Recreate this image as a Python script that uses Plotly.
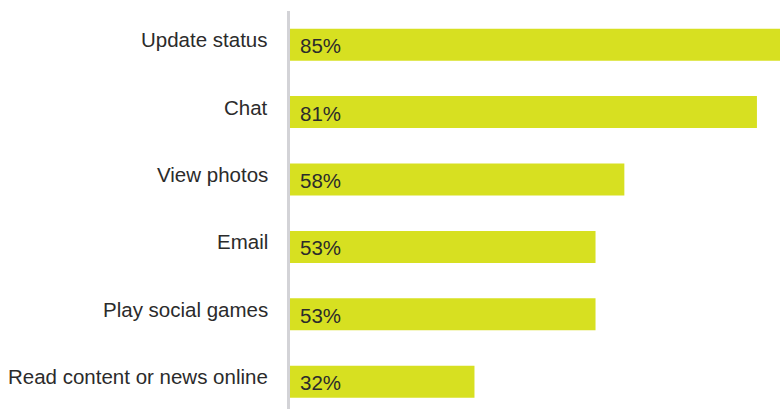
import plotly.graph_objects as go

# Share of users doing each activity (%)
activities = [
    "Update status",
    "Chat",
    "View photos",
    "Email",
    "Play social games",
    "Read content or news online",
]
shares = [85, 81, 58, 53, 53, 32]
value_labels = [f"{v}%" for v in shares]

BAR_COLOR = "#d7e021"
TEXT_COLOR = "#2b2b2b"
FONT = "Liberation Sans, Arial, Helvetica, sans-serif"

fig = go.Figure(
    go.Bar(
        x=shares,
        y=activities,
        orientation="h",
        marker=dict(color=BAR_COLOR, line=dict(width=0)),
        width=0.475,
        hoverinfo="skip",
    )
)

annotations = []
for name, val, lab in zip(activities, shares, value_labels):
    # category name to the left of the axis line
    annotations.append(
        dict(
            x=0, xref="paper", y=name, yref="y",
            text=name, showarrow=False,
            xanchor="right", yanchor="middle",
            xshift=-20, yshift=5,
            font=dict(family=FONT, size=20.5, color=TEXT_COLOR),
        )
    )
    # value inside the bar, near its base
    annotations.append(
        dict(
            x=0, xref="x", y=name, yref="y",
            text=lab, showarrow=False,
            xanchor="left", yanchor="middle",
            xshift=8, yshift=-1,
            font=dict(family=FONT, size=20.5, color=TEXT_COLOR),
        )
    )

fig.update_layout(
    width=781,
    height=409,
    margin=dict(l=290, r=1, t=11, b=0),
    paper_bgcolor="white",
    plot_bgcolor="white",
    showlegend=False,
    annotations=annotations,
    xaxis=dict(
        range=[0, 85],
        showgrid=False,
        zeroline=False,
        showticklabels=False,
        showline=False,
        fixedrange=True,
    ),
    yaxis=dict(
        type="category",
        categoryorder="array",
        categoryarray=activities,
        range=[5.405, -0.5],
        showgrid=False,
        zeroline=False,
        showticklabels=False,
        showline=True,
        linecolor="#d3d3d7",
        linewidth=3,
        ticks="",
        fixedrange=True,
    ),
)

fig.write_html("out.html")
